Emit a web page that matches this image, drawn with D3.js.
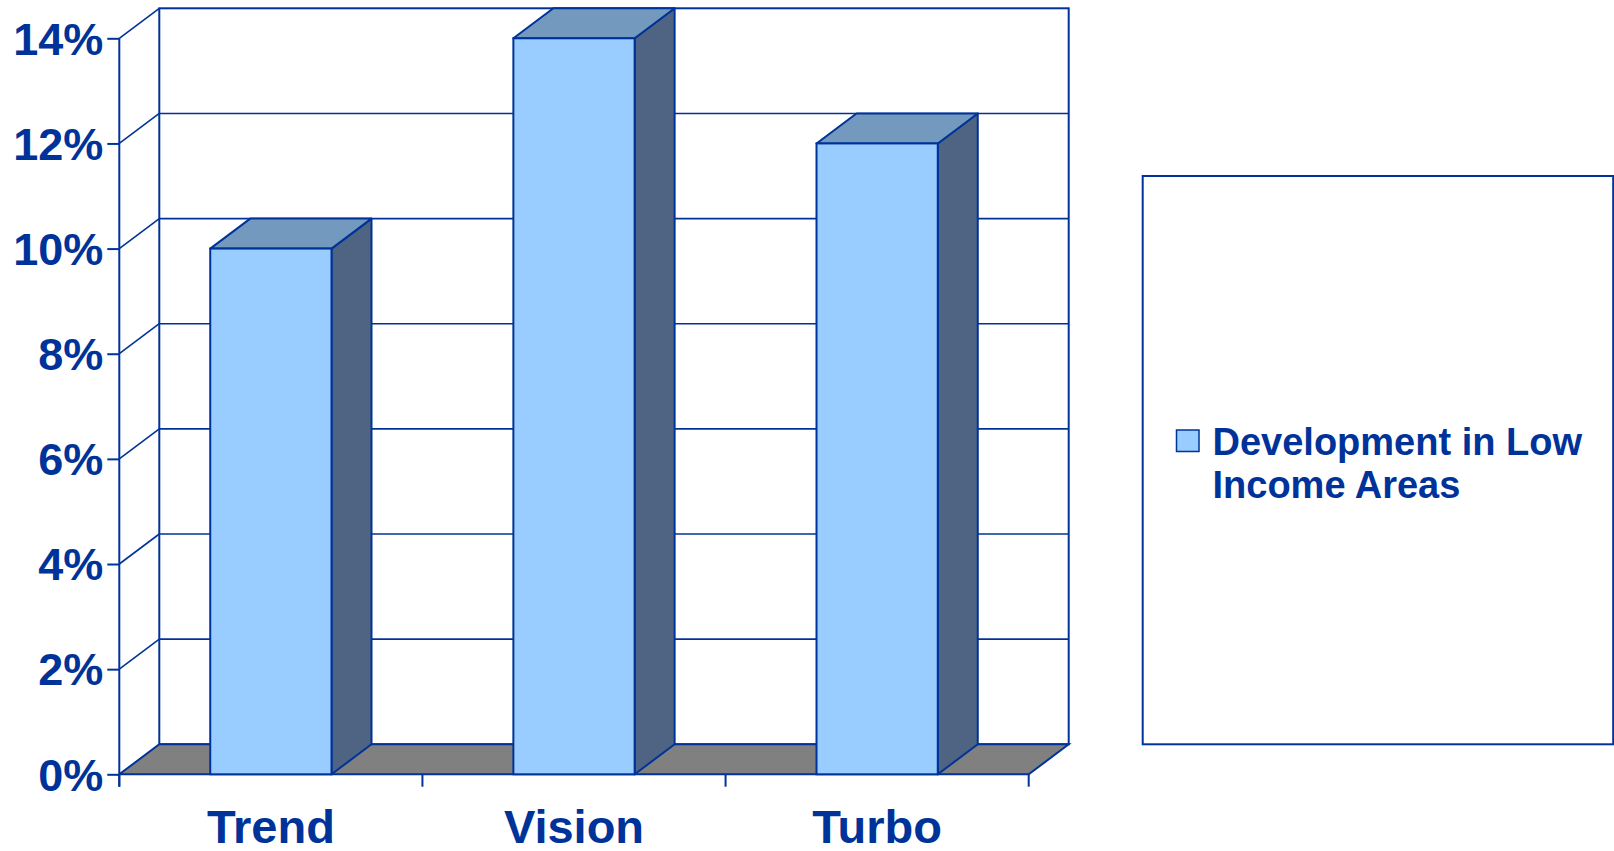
<!DOCTYPE html>
<html>
<head>
<meta charset="utf-8">
<script src="https://cdn.jsdelivr.net/npm/d3@7"></script>
<style>
  html, body { margin: 0; padding: 0; background: #ffffff; }
  svg { display: block; }
  text { font-family: "Liberation Sans", Arial, Helvetica, sans-serif; font-weight: bold; fill: #003399; }
</style>
</head>
<body>
<svg id="chart" width="1614" height="851"></svg>
<script>
// Share of development located in low income areas, by scenario
const categories = ["Trend", "Vision", "Turbo"];
const values = [0.10, 0.14, 0.12];
const yTicks = [0, 0.02, 0.04, 0.06, 0.08, 0.10, 0.12, 0.14];
const legendLines = ["Development in Low", "Income Areas"];

const ink = "#003399";
const frontFill = "#99CCFF";
const topFill = "#7399BE";
const sideFill = "#4E6482";
const floorFill = "#808080";

const svg = d3.select("#chart");

// front plane of the 3-D plot area
const x = d3.scaleBand()
  .domain(categories)
  .range([119.3, 1028.7])
  .paddingInner(0.6)
  .paddingOuter(0.3);
const y = d3.scaleLinear().domain([0, 0.14]).range([774.3, 38.3]);

// depth offset for the oblique projection
const dx = 40, dy = -30;

const x0 = x.range()[0], x1 = x.range()[1];
const yMax = y(d3.max(yTicks)), yZero = y(0);

// back wall
svg.append("rect")
  .attr("x", x0 + dx).attr("y", yMax + dy)
  .attr("width", x1 - x0).attr("height", yZero - yMax)
  .attr("fill", "#ffffff").attr("stroke", ink).attr("stroke-width", 2);

// gridlines on back wall and side wall
const grid = svg.append("g").attr("stroke", ink).attr("fill", "none");
grid.selectAll("line.back")
  .data(yTicks.filter(t => t > 0 && t < d3.max(yTicks)))
  .join("line").attr("class", "back")
  .attr("x1", x0 + dx).attr("x2", x1 + dx)
  .attr("y1", d => y(d) + dy).attr("y2", d => y(d) + dy)
  .attr("stroke-width", 1.6);
grid.selectAll("line.side")
  .data(yTicks.filter(t => t > 0))
  .join("line").attr("class", "side")
  .attr("x1", x0).attr("x2", x0 + dx)
  .attr("y1", d => y(d)).attr("y2", d => y(d) + dy)
  .attr("stroke-width", 1.6);

// floor
svg.append("path")
  .attr("d", d3.line()([[x0, yZero], [x1, yZero], [x1 + dx, yZero + dy], [x0 + dx, yZero + dy]]) + "Z")
  .attr("fill", floorFill).attr("stroke", ink).attr("stroke-width", 2);

// bars
const bars = svg.append("g").selectAll("g")
  .data(categories.map((c, i) => ({ c, v: values[i] })))
  .join("g");

bars.append("path") // side face
  .attr("d", d => {
    const r = x(d.c) + x.bandwidth(), t = y(d.v);
    return d3.line()([[r, t], [r + dx, t + dy], [r + dx, yZero + dy], [r, yZero]]) + "Z";
  })
  .attr("fill", sideFill).attr("stroke", ink).attr("stroke-width", 2).attr("stroke-linejoin", "round");

bars.append("path") // top face
  .attr("d", d => {
    const l = x(d.c), r = l + x.bandwidth(), t = y(d.v);
    return d3.line()([[l, t], [r, t], [r + dx, t + dy], [l + dx, t + dy]]) + "Z";
  })
  .attr("fill", topFill).attr("stroke", ink).attr("stroke-width", 2).attr("stroke-linejoin", "round");

bars.append("rect") // front face
  .attr("x", d => x(d.c)).attr("y", d => y(d.v))
  .attr("width", x.bandwidth()).attr("height", d => yZero - y(d.v))
  .attr("fill", frontFill).attr("stroke", ink).attr("stroke-width", 2);

// value axis on the front-left edge
const yAxis = svg.append("g")
  .attr("transform", `translate(${x0},0)`)
  .call(d3.axisLeft(y).tickValues(yTicks).tickFormat(d3.format(".0%")).tickSize(12).tickPadding(4));
yAxis.select(".domain").remove();
yAxis.selectAll(".tick line").attr("stroke", ink).attr("stroke-width", 2);
yAxis.selectAll(".tick text")
  .attr("fill", ink).attr("font-size", 45).attr("font-family", null).attr("dy", "0.35em");
svg.append("line")
  .attr("x1", x0).attr("x2", x0).attr("y1", yMax).attr("y2", yZero + 12.4)
  .attr("stroke", ink).attr("stroke-width", 2);

// category axis: front edge, ticks between categories, labels centred
const edges = d3.range(categories.length + 1).map(i => x0 + i * x.step());
svg.append("g").selectAll("line")
  .data(edges).join("line")
  .attr("x1", d => d).attr("x2", d => d)
  .attr("y1", yZero).attr("y2", yZero + 12.4)
  .attr("stroke", ink).attr("stroke-width", 2);
svg.append("g").selectAll("text")
  .data(categories).join("text")
  .attr("x", d => x(d) + x.bandwidth() / 2)
  .attr("y", 843)
  .attr("text-anchor", "middle")
  .attr("font-size", 47)
  .text(d => d);

// legend
const legend = svg.append("g");
legend.append("rect")
  .attr("x", 1142.7).attr("y", 176).attr("width", 470.5).attr("height", 568.3)
  .attr("fill", "#ffffff").attr("stroke", ink).attr("stroke-width", 2);
legend.append("rect")
  .attr("x", 1176.5).attr("y", 430).attr("width", 22.5).attr("height", 21.5)
  .attr("fill", frontFill).attr("stroke", ink).attr("stroke-width", 1.5);
legend.selectAll("text.item")
  .data(legendLines).join("text").attr("class", "item")
  .attr("x", 1212.5)
  .attr("y", (d, i) => 455 + i * 43.3)
  .attr("font-size", 38)
  .text(d => d);
</script>
</body>
</html>
